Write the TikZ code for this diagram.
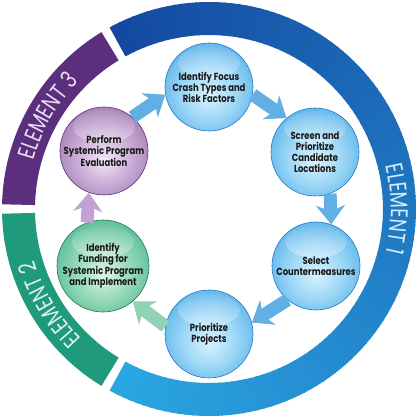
\documentclass[tikz,border=0pt]{standalone}
\usepackage{fontspec}
\setmainfont{Poppins}
\newfontfamily\ringfam[FakeStretch=0.78]{Poppins}
\newfontfamily\nodefam[FakeStretch=0.82]{Poppins}
\usetikzlibrary{arrows.meta,decorations.text,fadings}

\definecolor{ringDark}{HTML}{1448A0}
\definecolor{ringLight}{HTML}{2AA6E2}
\definecolor{ringPurple}{HTML}{5C2F7E}
\definecolor{ringGreen}{HTML}{1F9A7C}
\definecolor{txtBlue}{HTML}{D8EAF8}
\definecolor{txtPurple}{HTML}{E8DEF0}
\definecolor{txtGreen}{HTML}{DDF3EA}

\definecolor{bA}{HTML}{D8F2FD}
\definecolor{bB}{HTML}{9AD6F6}
\definecolor{bC}{HTML}{3EA2E4}
\definecolor{bD}{HTML}{1E80D2}
\definecolor{bE}{HTML}{2277C4}
\definecolor{gA}{HTML}{DDF4E8}
\definecolor{gB}{HTML}{92D7B6}
\definecolor{gC}{HTML}{3AAE85}
\definecolor{gD}{HTML}{1E9068}
\definecolor{gE}{HTML}{187A58}
\definecolor{pA}{HTML}{F2E8F6}
\definecolor{pB}{HTML}{C8ABD7}
\definecolor{pC}{HTML}{94689F}
\definecolor{pD}{HTML}{6E4290}
\definecolor{pE}{HTML}{5A3078}
\definecolor{arrBlue}{HTML}{62B0E3}
\definecolor{arrGreen}{HTML}{8ED3B3}
\definecolor{arrPurple}{HTML}{C3A0D5}

\pgfdeclareradialshading{sphblue}{\pgfpoint{0bp}{-5bp}}{color(0bp)=(bA); color(16bp)=(bB); color(36bp)=(bC); color(50bp)=(bD)}
\pgfdeclareradialshading{sphgreen}{\pgfpoint{0bp}{-5bp}}{color(0bp)=(gA); color(16bp)=(gB); color(36bp)=(gC); color(50bp)=(gD)}
\pgfdeclareradialshading{sphpurple}{\pgfpoint{0bp}{-5bp}}{color(0bp)=(pA); color(16bp)=(pB); color(36bp)=(pC); color(50bp)=(pD)}

\newcommand\ringtxt{\ringfam\fontsize{24}{24}\selectfont}
\newcommand\nodetxt{\nodefam\bfseries\fontsize{10.3}{11}\selectfont}
\newcommand\hilite{\fill[white,opacity=0.85,path fading=north] ([yshift=24pt]path picture bounding box.center) ellipse[x radius=31pt, y radius=16pt];}

\tikzset{
  ball/.style={circle, minimum size=88pt, inner sep=0pt, align=center, font=\nodetxt, text=black!90, line width=0.6pt, path picture={\hilite}},
  blueball/.style={ball, shading=sphblue, draw=bE},
  greenball/.style={ball, shading=sphgreen, draw=gE},
  purpleball/.style={ball, shading=sphpurple, draw=pE},
  flow/.style={line width=13pt, -{Stealth[length=19pt,width=29pt,inset=6pt]}},
}

\begin{document}
\begin{tikzpicture}[x=1pt,y=1pt]
\useasboundingbox (-209pt,-211pt) rectangle (211pt,209pt);

% blue ring segment with angular gradient
\foreach \i in {0,...,118} {
  \pgfmathsetmacro\s{-118.7+2*\i}
  \pgfmathsetmacro\e{min(\s+2.5,118.7)}
  \pgfmathtruncatemacro\t{100*\i/118}
  \colorlet{segc}{ringDark!\t!ringLight}
  \fill[segc] (\s:207pt) arc[start angle=\s, end angle=\e, radius=207pt]
     -- (\e:174pt) arc[start angle=\e, end angle=\s, radius=174pt] -- cycle;
}
\fill[ringPurple] (121.3:207pt) arc[start angle=121.3, end angle=178.7, radius=207pt]
   -- (178.7:174pt) arc[start angle=178.7, end angle=121.3, radius=174pt] -- cycle;
\fill[ringGreen] (181.3:207pt) arc[start angle=181.3, end angle=238.7, radius=207pt]
   -- (238.7:174pt) arc[start angle=238.7, end angle=181.3, radius=174pt] -- cycle;

% ring labels
\path[decorate, decoration={text along path, text align=center, text color=txtBlue,
   text={|\ringtxt|ELEMENT 1}}] (32:182pt) arc[start angle=32, end angle=-32, radius=182pt];
\path[decorate, decoration={text along path, text align=center, text color=txtPurple,
   text={|\ringtxt|ELEMENT 3}}] (182:182pt) arc[start angle=182, end angle=118, radius=182pt];
\path[decorate, decoration={text along path, text align=center, text color=txtGreen,
   text={|\ringtxt|ELEMENT 2}}] (243:182pt) arc[start angle=243, end angle=179, radius=182pt];

% cycle nodes
\node[blueball]   (n1) at (0,122)    {Identify Focus\\Crash Types and\\Risk Factors};
\node[blueball]   (n2) at (106,57)   {Screen and\\Prioritize\\Candidate\\Locations};
\node[blueball]   (n3) at (107,-57)  {Select\\Countermeasures};
\node[blueball]   (n4) at (0,-125)   {Prioritize\\Projects};
\node[greenball]  (n5) at (-106,-57) {Identify\\Funding for\\Systemic Program\\and Implement};
\node[purpleball] (n6) at (-105,58)  {Perform\\Systemic Program\\Evaluation};

% connectors
\draw[flow, arrBlue]   (n6.50)   -- (n1.190);
\draw[flow, arrBlue]   (n1.-10)  -- (n2.130);
\draw[flow, arrBlue]   (n2.-70)  -- (n3.70);
\draw[flow, arrBlue]   (n3.-130) -- (n4.15);
\draw[flow, arrGreen]  (n4.170)  -- (n5.-50);
\draw[flow, arrPurple] (n5.110)  -- (n6.-110);
\end{tikzpicture}
\end{document}
